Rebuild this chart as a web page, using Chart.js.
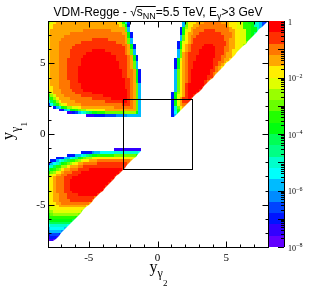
<!DOCTYPE html>
<html>
<head>
<meta charset="utf-8">
<script src="https://cdn.jsdelivr.net/npm/chart.js@4.4.0/dist/chart.umd.min.js"></script>
<style>
  html, body { margin: 0; padding: 0; background: #fff; }
</style>
</head>
<body>
<canvas id="chart" width="316" height="302"></canvas>
<script>
// Axis ranges
const xRange = [-8, 8];
const yRange = [-8, 8];
const zRange = [1e-8, 1];
const nContours = 20;
const nBinsX = 80;

// Bin contents, as contour level per 0.2 x 0.2 bin.
// One string per row of bins, top row (y = 8) first, left bin (x = -8) first.
// 'a' = lowest contour (1e-8) ... 't' = highest (1), '.' = empty;
// a letter followed by a number is repeated that many times.
const levelKeys = 'abcdefghijklmnopqrst';
const levelRows = [
    'nopq22polhd.19fmp3q3r6q3p3o2l2k2h2fdc',
    'opq24pnkc.19fmp2q2r10qp3o2l3kh2fd',
    'opq26mf.18cknpq2r12qp2o2l3k2hf',
    'pq12r10q5mf.18ckopqr4s4r5q2p2o2l2k2h',
    'pq7r19q2kc.17ckpq2r2s8r4qp2o2l2ki',
    'pq5r22qkc.17fmpqr2s10r3qp2o2l2k',
    'pq4r11s6r6qmf.17fmpqrs11r2q2p2o2l2',
    'pq3r8s13r3qmf.16ckopqrs12rq2p2o2m',
    'pq3r6s17r2qkc.15ckpqrs5t3s5rq2p2on',
    'pq3r5s19rqkc.15ckpqrs4t5s3r2q2p2o',
    'pq3r4s8t5s7rqmf.15fmpqrs3t6s3r2qp2o',
    'pq3r4s6t9s5rqmf.15fmqrs4t6s3rq2p2',
    'pq3r4s5t12s4rqkc.14fmqrs3t7s2r2q2p',
    'pq3r3s5t13s4rqkc.13ckoqrs3t6s3rq2p',
    'pq3r3s5t14s3rqmf.13ckpqrs2t7s2r2qp',
    'pq3r3s5t14s3rqmf.13ckpqrs2t7s2rqp',
    'pq3r3s4t15s3rqmf.13ckpqrs2t7srqp',
    'pq3r3s4t16s2r2qkc.12fmpqrst7s2rq',
    'pq3r3s4t16s2r2qkc.12fmpqrst7srq',
    'pq3r3s4t16s2r2qkc.12fmpqrst6s2r',
    'pq3r3s4t17s2rqkc.12fmpqrst6sr',
    'pq3r4s3t17s2rqkc.12fmpqrst5sr',
    'pq3r4s4t16s2rqmf.12fmpqst6s',
    'p2q2r4s4t16s2rqmf.12fmpqst5s',
    'opq3r4s4t16srqmf.12fmpqst4s',
    'noq3r5s6t13srqmf.11cknpqst3s',
    'lnoq3r6s8t9srqmf.11ckopqst2s',
    'jlnpq4r8s7t6srqmf.11ckoqs2ts',
    'gjlnpq5r11s6t2srqmf.11ckoqs3',
    'dgjlnopq5r15s3rqmf.11ckoqr2',
    '.2cfhkln2o2pq12r7qmf.11chmpq',
    '.4bcfhk2lmn2o3p4q11mf.11chlo',
    '.7b2cdfghijk2l3m7n4kf.11cgk',
    '.14b3c4d4e4f5.11cf',
    '', '', '', '', '', '', '', '', '', '', '',
    '.24b10',
    '.12c4ef2g5h9g',
    '.7c3f2ghijk2l6m8l',
    '.3c3f2ghiklmn2op14o',
    '.c2fghijl2mnop2q3r12q',
    'cfghiklmnopq2r5s11r',
    'ghjl2n2pq3r2s16',
    'iklmnpq2r3s4t12s',
    'lmnp2qr3s3t14s',
    'nopq2r2s4t14s',
    'opqr3s3t15s',
    'opqr3s2t15s',
    'opqr3s2t14s',
    'opqr3s2t13s',
    'opqr3s2t12s',
    'opqr3s3t10s',
    'opq2r3s4t7s',
    'opq2r3s10r',
    'opq2r4s8r',
    'op2q2r10q',
    'nop2q10p',
    'no2p10o',
    'mno10n',
    'lmn9m',
    'kl9k',
    'jk8j',
    'ij7i',
    'gh6g',
    'fg5f',
    'ef4e',
    'cd3c',
    'bc2b',
    'aba',
    '', ''
];

const xTicks = [-5, 0, 5];
const yTicks = [-5, 0, 5];
const zLabelExps = [0, -2, -4, -6, -8];
const cutBox = [-2.5, 2.5];

// ROOT "pretty palette" hue for each contour, low to high
const contourHues = [263.2, 252, 235.2, 224, 207.2, 196, 179.2, 168, 151.2, 140,
                     123.2, 112, 95.2, 84, 67.2, 56, 39.2, 28, 11.2, 0];

function expandRow(code) {
    let out = '';
    const re = /([a-t.])(\d*)/g;
    let m;
    while ((m = re.exec(code)) !== null) {
        out += m[1].repeat(m[2] ? parseInt(m[2], 10) : 1);
    }
    return out.padEnd(nBinsX, '.');
}

const nBinsY = levelRows.length;
const binW = (xRange[1] - xRange[0]) / nBinsX;
const binH = (yRange[1] - yRange[0]) / nBinsY;
const logMin = Math.log10(zRange[0]);
const logMax = Math.log10(zRange[1]);
const logStep = (logMax - logMin) / nContours;

const cells = [];
levelRows.forEach((code, j) => {
    expandRow(code).split('').forEach((ch, i) => {
        const k = levelKeys.indexOf(ch);
        if (k < 0) return;
        const x0 = xRange[0] + i * binW;
        const y1 = yRange[1] - j * binH;
        cells.push({
            x: x0 + binW / 2, y: y1 - binH / 2,
            x0: x0, x1: x0 + binW, y0: y1 - binH, y1: y1,
            v: Math.pow(10, logMin + (k + 0.5) * logStep)
        });
    });
});

function contourIndex(v) {
    const k = Math.floor((Math.log10(v) - logMin) / logStep);
    return Math.max(0, Math.min(nContours - 1, k));
}
function contourColor(k) {
    return 'hsl(' + contourHues[k] + ', 100%, 50%)';
}

const SERIF = '"Liberation Serif", "Times New Roman", serif';
const SANS = '"Liberation Sans", Arial, sans-serif';

function richWidth(ctx, parts) {
    let w = 0;
    parts.forEach(p => { ctx.font = p.f; p.w = ctx.measureText(p.t).width; w += p.w; });
    return w;
}
function drawRich(ctx, parts, x, y) {
    let cx = x;
    parts.forEach(p => {
        ctx.font = p.f;
        ctx.fillText(p.t, cx, y + (p.dy || 0));
        p.x = cx;
        cx += p.w;
    });
}

// heat map bins
const heatmapPlugin = {
    id: 'heatmap',
    beforeDatasetsDraw(chart) {
        const { ctx, scales: { x, y } } = chart;
        const data = chart.data.datasets[0].data;
        ctx.save();
        data.forEach(c => {
            const px0 = Math.round(x.getPixelForValue(c.x0));
            const px1 = Math.round(x.getPixelForValue(c.x1));
            const py0 = Math.round(y.getPixelForValue(c.y1));
            const py1 = Math.round(y.getPixelForValue(c.y0));
            ctx.fillStyle = contourColor(contourIndex(c.v));
            if (Math.abs(c.x0 - c.y0) < 1e-6) {
                // bin cut by y1 = y2: only the half above the diagonal is filled
                ctx.beginPath();
                ctx.moveTo(px0, py1);
                ctx.lineTo(px0, py0);
                ctx.lineTo(px1, py0);
                ctx.closePath();
                ctx.fill();
            } else {
                ctx.fillRect(px0, py0, px1 - px0, py1 - py0);
            }
        });
        ctx.restore();
    }
};

// frame, ticks, labels, palette, title
const decorPlugin = {
    id: 'decor',
    afterDraw(chart) {
        const { ctx, chartArea: area, scales: { x, y } } = chart;
        const L = Math.round(area.left) + 0.5, R = Math.round(area.right) + 0.5;
        const T = Math.round(area.top) + 0.5, B = Math.round(area.bottom) + 0.5;
        ctx.save();
        ctx.strokeStyle = '#000';
        ctx.fillStyle = '#000';
        ctx.lineWidth = 1;

        // cut box
        const bx0 = Math.round(x.getPixelForValue(cutBox[0])) + 0.5;
        const bx1 = Math.round(x.getPixelForValue(cutBox[1])) + 0.5;
        const by0 = Math.round(y.getPixelForValue(cutBox[1])) + 0.5;
        const by1 = Math.round(y.getPixelForValue(cutBox[0])) + 0.5;
        ctx.strokeRect(bx0, by0, bx1 - bx0, by1 - by0);

        // frame
        ctx.strokeRect(L, T, R - L, B - T);

        // ticks on all four sides, pointing inward
        ctx.beginPath();
        for (let v = xRange[0] + 1; v < xRange[1]; v++) {
            const len = xTicks.includes(v) ? 6 : 3;
            const px = Math.round(x.getPixelForValue(v)) + 0.5;
            ctx.moveTo(px, B); ctx.lineTo(px, B - len);
            ctx.moveTo(px, T); ctx.lineTo(px, T + len);
        }
        for (let v = yRange[0] + 1; v < yRange[1]; v++) {
            const len = yTicks.includes(v) ? 6 : 3;
            const py = Math.round(y.getPixelForValue(v)) + 0.5;
            ctx.moveTo(L, py); ctx.lineTo(L + len, py);
            ctx.moveTo(R, py); ctx.lineTo(R - len, py);
        }
        ctx.stroke();

        // tick labels
        ctx.font = '11px ' + SERIF;
        ctx.textBaseline = 'middle';
        ctx.textAlign = 'center';
        xTicks.forEach(v => ctx.fillText(String(v), x.getPixelForValue(v), B + 10.5));
        ctx.textAlign = 'right';
        yTicks.forEach(v => ctx.fillText(String(v), L - 3, y.getPixelForValue(v)));

        // axis titles
        ctx.textAlign = 'left';
        ctx.textBaseline = 'alphabetic';
        const xTitle = [
            { t: 'y', f: '16px ' + SERIF, dy: 0 },
            { t: '\u03B3', f: '12px ' + SERIF, dy: 5 },
            { t: '2', f: '9px ' + SERIF, dy: 14 }
        ];
        const xw = richWidth(ctx, xTitle);
        drawRich(ctx, xTitle, x.getPixelForValue(0) - xw / 2 + 1, 272);

        const yTitle = [
            { t: 'y', f: '16px ' + SERIF, dy: 0 },
            { t: '\u03B3', f: '12px ' + SERIF, dy: 6 },
            { t: '1', f: '9px ' + SERIF, dy: 14 }
        ];
        const yw = richWidth(ctx, yTitle);
        ctx.save();
        ctx.translate(13, y.getPixelForValue(0) + yw / 2 - 3);
        ctx.rotate(-Math.PI / 2);
        drawRich(ctx, yTitle, 0, 0);
        ctx.restore();

        // palette axis
        const cbL = Math.round(area.right) + 1, cbR = cbL + 15;
        const cbT = area.top, cbB = area.bottom;
        const bandH = (cbB - cbT) / nContours;
        for (let k = 0; k < nContours; k++) {
            const top = Math.round(cbB - (k + 1) * bandH);
            const bot = Math.round(cbB - k * bandH);
            ctx.fillStyle = contourColor(k);
            ctx.fillRect(cbL, top, cbR - cbL, bot - top);
        }
        ctx.fillStyle = '#000';
        const zPix = lv => cbB - (lv - logMin) / (logMax - logMin) * (cbB - cbT);
        ctx.beginPath();
        ctx.moveTo(cbR + 0.5, cbT); ctx.lineTo(cbR + 0.5, cbB);
        for (let e = logMin; e < logMax; e++) {
            for (let m = 1; m <= 9; m++) {
                const lv = e + Math.log10(m);
                const py = Math.round(zPix(lv)) + 0.5;
                const len = m === 1 ? 6 : 3;
                ctx.moveTo(cbR, py); ctx.lineTo(cbR - len, py);
            }
        }
        ctx.stroke();

        zLabelExps.forEach(e => {
            const py = zPix(e) + 1.5;
            ctx.textBaseline = 'middle';
            if (e === 0) {
                ctx.font = '8px ' + SERIF;
                ctx.fillText('1', cbR + 4, py);
            } else {
                const parts = [
                    { t: '10', f: '8px ' + SERIF, dy: 0 },
                    { t: '\u2212' + String(-e), f: '6px ' + SERIF, dy: -3 }
                ];
                richWidth(ctx, parts);
                drawRich(ctx, parts, cbR + 4, py);
            }
        });

        // title
        ctx.textBaseline = 'alphabetic';
        const main = '12px ' + SANS, sub = '9px ' + SANS;
        const title = [
            { t: 'VDM-Regge - ', f: main, dy: 0 },
            { t: '\u221A', f: main, dy: 0 },
            { t: 's', f: main, dy: 0 },
            { t: 'NN', f: sub, dy: 3 },
            { t: '=5.5 TeV, E', f: main, dy: 0 },
            { t: '\u03B3', f: sub, dy: 3 },
            { t: '>3 GeV', f: main, dy: 0 }
        ];
        const tw = richWidth(ctx, title);
        drawRich(ctx, title, chart.width / 2 - tw / 2, 16);
        // overline of the square root
        ctx.beginPath();
        ctx.moveTo(title[1].x + title[1].w - 0.5, 6.5);
        ctx.lineTo(title[3].x + title[3].w, 6.5);
        ctx.stroke();

        ctx.restore();
    }
};

new Chart(document.getElementById('chart'), {
    type: 'scatter',
    data: {
        datasets: [{ data: cells, pointRadius: 0, pointHoverRadius: 0 }]
    },
    options: {
        responsive: false,
        animation: false,
        events: [],
        layout: { padding: { left: 47.5, right: 48.5, top: 21, bottom: 55 } },
        plugins: {
            legend: { display: false },
            tooltip: { enabled: false },
            title: { display: false }
        },
        scales: {
            x: { type: 'linear', min: xRange[0], max: xRange[1], display: false },
            y: { type: 'linear', min: yRange[0], max: yRange[1], display: false }
        }
    },
    plugins: [heatmapPlugin, decorPlugin]
});
</script>
</body>
</html>
